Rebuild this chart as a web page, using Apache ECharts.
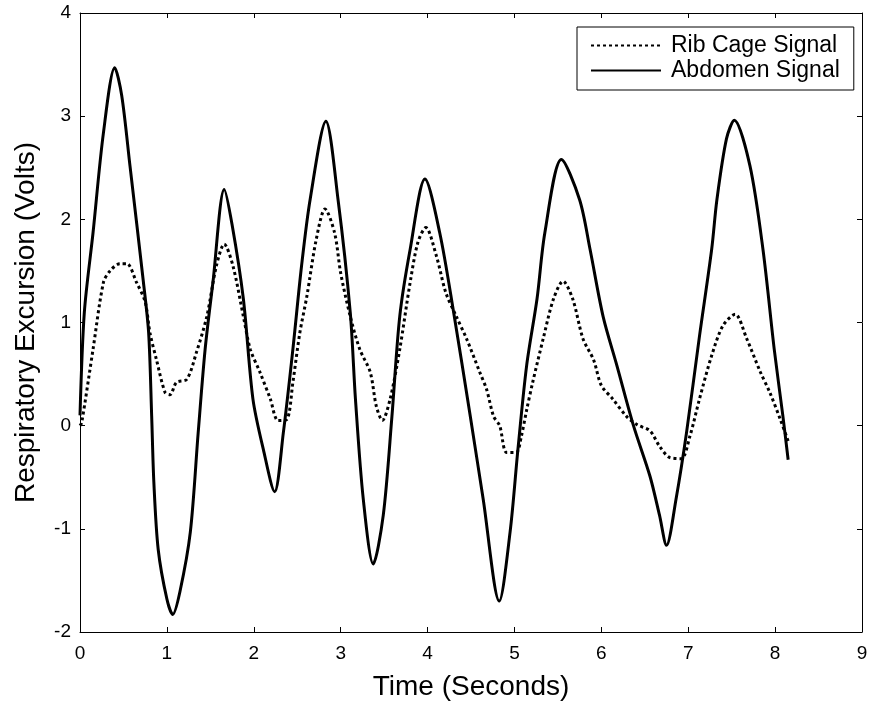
<!DOCTYPE html>
<html>
<head>
	<meta charset="utf-8">
	<title>Respiratory Excursion</title>
	<script src="https://cdn.jsdelivr.net/npm/echarts@6/dist/echarts.min.js"></script>
	<style>
		html, body { margin: 0; padding: 0; background: #fff; }
	</style>
</head>
<body>
	<div id="main" style="width: 871px;height:709px;"></div>
	<script type="text/javascript">
	// values
	var ribTime = [0, 0.02, 0.15, 0.27, 0.345, 0.46, 0.54, 0.65, 0.75, 0.805, 0.88, 0.98, 1.036, 1.11, 1.23, 1.34, 1.46, 1.57, 1.66, 1.76, 1.88, 1.96, 2.07, 2.19, 2.28, 2.38, 2.45, 2.53, 2.61, 2.72, 2.82, 2.93, 3.0, 3.11, 3.22, 3.34, 3.41, 3.48, 3.57, 3.68, 3.8, 3.89, 3.98, 4.1, 4.21, 4.33, 4.45, 4.6, 4.68, 4.76, 4.83, 4.91, 5.02, 5.08, 5.14, 5.21, 5.33, 5.45, 5.56, 5.67, 5.79, 5.91, 6.0, 6.13, 6.29, 6.41, 6.56, 6.67, 6.79, 6.92, 7.02, 7.13, 7.27, 7.4, 7.54, 7.67, 7.83, 7.94, 8.06, 8.15];
	var ribValues = [0.0, 0.03, 0.74, 1.39, 1.5, 1.57, 1.57, 1.39, 1.2, 0.9, 0.64, 0.32, 0.3, 0.42, 0.45, 0.71, 1.06, 1.55, 1.76, 1.55, 1.06, 0.74, 0.52, 0.26, 0.05, 0.06, 0.42, 0.9, 1.25, 1.81, 2.1, 1.87, 1.48, 1.06, 0.74, 0.52, 0.19, 0.05, 0.26, 0.74, 1.39, 1.78, 1.92, 1.65, 1.29, 1.06, 0.84, 0.52, 0.35, 0.09, 0.0, -0.26, -0.26, -0.1, 0.15, 0.42, 0.84, 1.23, 1.4, 1.23, 0.84, 0.64, 0.39, 0.26, 0.09, 0.01, -0.05, -0.2, -0.31, -0.32, -0.1, 0.26, 0.68, 0.97, 1.08, 0.85, 0.52, 0.32, 0.06, -0.15];

	var abdTime = [0, 0.05, 0.15, 0.27, 0.4, 0.48, 0.575, 0.73, 0.79, 0.825, 0.85, 0.9, 1.0, 1.067, 1.15, 1.27, 1.36, 1.44, 1.53, 1.66, 1.75, 1.88, 1.99, 2.11, 2.24, 2.34, 2.45, 2.55, 2.65, 2.83, 2.97, 3.11, 3.17, 3.26, 3.375, 3.49, 3.59, 3.68, 3.8, 3.97, 4.14, 4.3, 4.49, 4.64, 4.825, 4.95, 5.04, 5.14, 5.26, 5.35, 5.54, 5.75, 5.87, 6.02, 6.18, 6.37, 6.56, 6.67, 6.75, 6.86, 6.98, 7.13, 7.27, 7.33, 7.44, 7.53, 7.71, 7.86, 7.99, 8.09, 8.15];
	var abdValues = [0.1, 1.1, 1.87, 2.84, 3.47, 3.2, 2.52, 1.39, 0.9, 0.09, -0.55, -1.2, -1.68, -1.83, -1.61, -1.03, -0.07, 0.74, 1.39, 2.29, 1.95, 1.23, 0.26, -0.23, -0.64, -0.07, 0.74, 1.55, 2.2, 2.95, 2.19, 1.1, 0.26, -0.71, -1.34, -0.87, 0.09, 1.06, 1.71, 2.39, 1.87, 1.1, 0.1, -0.71, -1.7, -1.03, -0.23, 0.58, 1.23, 1.87, 2.58, 2.19, 1.71, 1.06, 0.58, 0.0, -0.49, -0.87, -1.16, -0.71, -0.07, 0.87, 1.71, 2.19, 2.78, 2.96, 2.52, 1.71, 0.74, 0.09, -0.33];

	var xTicks = [0, 1, 2, 3, 4, 5, 6, 7, 8, 9];
	var yTicks = [-2, -1, 0, 1, 2, 3, 4];

	function pairs(t, v) {
		return t.map(function(x, i) { return [x, v[i]]; });
	}

	var myChart = echarts.init(document.getElementById('main'));

	var font = 'Liberation Sans, Arial, sans-serif';
	var tickLine = { show: true, inside: true, length: 5, lineStyle: { color: '#000', width: 1 } };
	var axisLine = { show: true, onZero: false, lineStyle: { color: '#000', width: 1 } };

	option = {
		backgroundColor: '#fff',
		animation: false,
		grid: {
			left: 80,
			right: 9,
			top: 13,
			bottom: 77,
			show: false
		},
		legend: {
			orient: 'vertical',
			left: 577,
			top: 27,
			itemWidth: 70,
			itemHeight: 20,
			itemGap: 2,
			padding: [7, 14, 8, 13],
			backgroundColor: '#fff',
			borderColor: '#000',
			borderWidth: 1,
			itemStyle: { opacity: 0 },
			textStyle: { fontFamily: font, fontSize: 23, color: '#000', padding: [0, 0, 0, 5] },
			data: ['Rib Cage Signal', 'Abdomen Signal']
		},
		xAxis: [{
			type: 'value',
			min: xTicks[0],
			max: xTicks[xTicks.length - 1],
			interval: 1,
			name: 'Time (Seconds)',
			nameLocation: 'middle',
			nameGap: 41,
			nameTextStyle: { fontFamily: font, fontSize: 28, color: '#000' },
			axisLine: axisLine,
			axisTick: tickLine,
			axisLabel: { fontFamily: font, fontSize: 19, color: '#000', margin: 12 },
			splitLine: { show: false }
		}, {
			type: 'value',
			position: 'top',
			min: xTicks[0],
			max: xTicks[xTicks.length - 1],
			interval: 1,
			axisLine: axisLine,
			axisTick: tickLine,
			axisLabel: { show: false },
			splitLine: { show: false }
		}],
		yAxis: [{
			type: 'value',
			min: yTicks[0],
			max: yTicks[yTicks.length - 1],
			interval: 1,
			name: 'Respiratory Excursion (Volts)',
			nameLocation: 'middle',
			nameGap: 40,
			nameTextStyle: { fontFamily: font, fontSize: 28, color: '#000' },
			axisLine: axisLine,
			axisTick: tickLine,
			axisLabel: { fontFamily: font, fontSize: 19, color: '#000', margin: 9 },
			splitLine: { show: false }
		}, {
			type: 'value',
			position: 'right',
			min: yTicks[0],
			max: yTicks[yTicks.length - 1],
			interval: 1,
			axisLine: axisLine,
			axisTick: tickLine,
			axisLabel: { show: false },
			splitLine: { show: false }
		}],
		series: [{
			name: 'Rib Cage Signal',
			type: 'line',
			showSymbol: false,
			symbol: 'none',
			smooth: 0.3,
			color: '#000',
			lineStyle: { color: '#000', width: 3, type: [3, 3] },
			data: pairs(ribTime, ribValues)
		}, {
			name: 'Abdomen Signal',
			type: 'line',
			showSymbol: false,
			symbol: 'none',
			smooth: 0.3,
			color: '#000',
			lineStyle: { color: '#000', width: 3 },
			data: pairs(abdTime, abdValues)
		}]
	};

	myChart.setOption(option);
	</script>
</body>
</html>
